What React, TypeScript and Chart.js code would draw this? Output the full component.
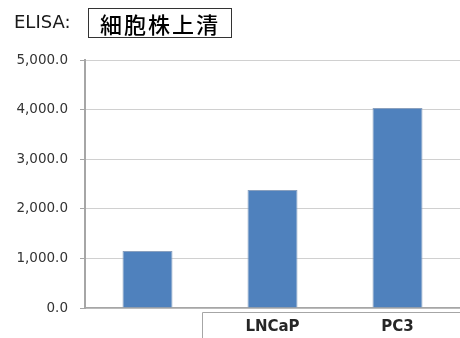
import React, { useEffect, useRef } from "react";
import { Chart, registerables } from "chart.js";

Chart.register(...registerables);

const categories = ["", "LNCaP", "PC3"];
const values = [1150, 2380, 4030];
const yMin = 0;
const yMax = 5000;
const yStep = 1000;
const titleLabel = "ELISA:";
const titleBoxText = "細胞株上清";

const groupLinePlugin = {
  id: "groupLine",
  afterDraw(chart: any) {
    const x = chart.scales.x;
    const ctx = chart.ctx;
    const left = (x.getPixelForValue(0) + x.getPixelForValue(1)) / 2 - 8;
    const top = chart.chartArea.bottom + 4;
    ctx.save();
    ctx.strokeStyle = "#a6a6a6";
    ctx.lineWidth = 1;
    ctx.beginPath();
    ctx.moveTo(chart.width, top + 0.5);
    ctx.lineTo(Math.round(left) + 0.5, top + 0.5);
    ctx.lineTo(Math.round(left) + 0.5, chart.height);
    ctx.stroke();
    ctx.restore();
  },
};

export default function App() {
  const ref = useRef<HTMLCanvasElement>(null);
  useEffect(() => {
    if (!ref.current) return;
    const chart = new Chart(ref.current, {
      type: "bar",
      data: {
        labels: categories,
        datasets: [
          {
            data: values,
            backgroundColor: "#4f81bd",
            borderColor: "#8aa0be",
            borderWidth: 1,
            barPercentage: 0.4,
            categoryPercentage: 1,
          },
        ],
      },
      options: {
        animation: false,
        responsive: false,
        maintainAspectRatio: false,
        layout: { padding: { top: 60, left: 0, right: 0, bottom: 0 } },
        plugins: { legend: { display: false }, tooltip: { enabled: false }, title: { display: false } },
        scales: {
          x: {
            grid: { display: false, drawTicks: false },
            border: { display: true, color: "#a6a6a6", width: 1.5 },
            ticks: {
              padding: 10,
              color: "#262626",
              font: { family: "DejaVu Sans", size: 15, weight: "bold" },
            },
            afterFit: (s: any) => {
              s.height = 30;
            },
          },
          y: {
            min: yMin,
            max: yMax,
            ticks: {
              stepSize: yStep,
              padding: 12,
              color: "#333333",
              font: { family: "DejaVu Sans", size: 13.5 },
              callback: (v: any) =>
                Number(v).toLocaleString("en-US", { minimumFractionDigits: 1, maximumFractionDigits: 1 }),
            },
            grid: { color: "#d0d0d0", lineWidth: 1, tickLength: 5, tickColor: "#a6a6a6" },
            border: { display: true, color: "#a6a6a6", width: 2 },
            afterFit: (s: any) => {
              s.width = 85;
            },
          },
        },
      },
      plugins: [groupLinePlugin],
    });
    return () => chart.destroy();
  }, []);

  return (
    <div style={{ position: "fixed", left: 0, top: 0, width: 460, height: 338, background: "#fff" }}>
      <canvas ref={ref} width={460} height={338} style={{ position: "absolute", left: 0, top: 0 }} />
      <div
        style={{
          position: "absolute",
          left: 14,
          top: 11,
          fontFamily: "DejaVu Sans",
          fontSize: 18,
          color: "#1a1a1a",
        }}
      >
        {titleLabel}
      </div>
      <div
        style={{
          position: "absolute",
          left: 88,
          top: 8,
          width: 142,
          height: 28,
          border: "1.5px solid #333",
          fontFamily: "'Noto Sans CJK JP'",
          fontWeight: 500,
          fontSize: 22,
          lineHeight: "28px",
          textAlign: "center",
          color: "#000",
          letterSpacing: 2,
        }}
      >
        {titleBoxText}
      </div>
    </div>
  );
}
